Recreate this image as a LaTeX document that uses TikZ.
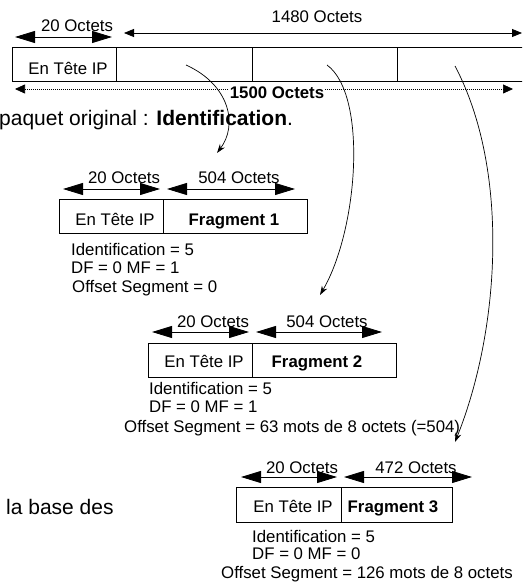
\documentclass[tikz,border=0pt]{standalone}
\usepackage{fontspec}
\setmainfont{Liberation Sans}
\usetikzlibrary{arrows.meta}
\begin{document}
\begin{tikzpicture}[x=1pt,y=-1pt,
  cell/.style={draw,line width=1pt,inner sep=0pt,anchor=north west},
  lbl/.style={font=\fontsize{16.8}{19}\selectfont,inner sep=0pt,anchor=base},
  blbl/.style={font=\fontsize{16.8}{19}\selectfont\bfseries,inner sep=0pt,anchor=base},
  info/.style={font=\fontsize{16.8}{19}\selectfont,inner sep=0pt,anchor=base west},
  body/.style={font=\fontsize{21}{24}\selectfont,inner sep=0pt,anchor=base west},
  bigdim/.style={line width=0.9pt,{Triangle[length=20pt,width=12pt]}-{Triangle[length=20pt,width=12pt]}},
  smalldim/.style={line width=0.8pt,{Triangle[length=10pt,width=8pt]}-{Triangle[length=10pt,width=8pt]}},
  dotdim/.style={line width=0.7pt,dash pattern=on 1pt off 1pt,{Triangle[length=10pt,width=9pt]}-{Triangle[length=10pt,width=9pt]}},
  curve/.style={line width=0.7pt,-{Stealth[length=9pt,width=6pt]}}]
\useasboundingbox (0,0) rectangle (522,583);
\clip (0,0) rectangle (522,583);

% ---------- original packet ----------
\node[cell,minimum width=104pt,minimum height=34pt] (h0) at (12,47) {};
\node[cell,minimum width=136pt,minimum height=34pt] (d1) at (116,47) {};
\node[cell,minimum width=145pt,minimum height=34pt] (d2) at (252,47) {};
\node[cell,minimum width=140pt,minimum height=34pt] (d3) at (397,47) {};
\node[lbl] (th0) at (68,75) {En Tête IP};

\coordinate (a1) at (15,37); \coordinate (a2) at (112,37);
\draw[bigdim] (a1) -- (a2);
\node[lbl] (t20) at (77,32) {20 Octets};
\coordinate (b1) at (124,33); \coordinate (b2) at (522,33);
\draw[smalldim] (b1) -- (b2);
\node[lbl] (t1480) at (317,23) {1480 Octets};
\coordinate (c1) at (15,89); \coordinate (c2) at (513,89);
\draw[dotdim] (c1) -- (c2);
\node[blbl,fill=white,inner sep=0.6pt] (t1500) at (277,99) {1500 Octets};

\node[body] (para1) at (-1,125) {paquet original : \textbf{Identification}.};
\node[body] (para2) at (6,514) {la base des};

% ---------- fragment 1 ----------
\node[cell,minimum width=104pt,minimum height=34pt] (f1h) at (59,199) {};
\node[cell,minimum width=144pt,minimum height=34pt] (f1d) at (163,199) {};
\node[lbl] (f1ht) at (115,225) {En Tête IP};
\node[blbl] (f1dt) at (234,225) {Fragment 1};
\coordinate (f1a1) at (63,189); \coordinate (f1a2) at (160,189);
\coordinate (f1b1) at (167,189); \coordinate (f1b2) at (295,189);
\draw[bigdim] (f1a1) -- (f1a2);
\draw[bigdim] (f1b1) -- (f1b2);
\node[lbl] (f1l1) at (124,183) {20 Octets};
\node[lbl] (f1l2) at (239,183) {504 Octets};
\node[info] (f1i1) at (71,255) {Identification = 5};
\node[info] (f1i2) at (71,273) {DF = 0 MF = 1};
\node[info] (f1i3) at (72,292) {Offset Segment = 0};

% ---------- fragment 2 ----------
\node[cell,minimum width=104pt,minimum height=34pt] (f2h) at (148,343) {};
\node[cell,minimum width=144pt,minimum height=34pt] (f2d) at (252,343) {};
\node[lbl] (f2ht) at (204,367) {En Tête IP};
\node[blbl] (f2dt) at (317,367) {Fragment 2};
\coordinate (f2a1) at (152,332); \coordinate (f2a2) at (249,332);
\coordinate (f2b1) at (256,332); \coordinate (f2b2) at (382,332);
\draw[bigdim] (f2a1) -- (f2a2);
\draw[bigdim] (f2b1) -- (f2b2);
\node[lbl] (f2l1) at (213,327) {20 Octets};
\node[lbl] (f2l2) at (327,327) {504 Octets};
\node[info] (f2i1) at (149,394) {Identification = 5};
\node[info] (f2i2) at (149,412) {DF = 0 MF = 1};
\node[info] (f2i3) at (124,432) {Offset Segment = 63 mots de 8 octets (=504)};

% ---------- fragment 3 ----------
\node[cell,minimum width=105pt,minimum height=35pt] (f3h) at (236,487) {};
\node[cell,minimum width=111pt,minimum height=35pt] (f3d) at (341,487) {};
\node[lbl] (f3ht) at (293,512) {En Tête IP};
\node[blbl] (f3dt) at (393,512) {Fragment 3};
\coordinate (f3a1) at (241,477); \coordinate (f3a2) at (337,477);
\coordinate (f3b1) at (344,477); \coordinate (f3b2) at (472,477);
\draw[bigdim] (f3a1) -- (f3a2);
\draw[bigdim] (f3b1) -- (f3b2);
\node[lbl] (f3l1) at (302,473) {20 Octets};
\node[lbl] (f3l2) at (416,473) {472 Octets};
\node[info] (f3i1) at (252,542) {Identification = 5};
\node[info] (f3i2) at (252,559) {DF = 0 MF = 0};
\node[info] (f3i3) at (221,578) {Offset Segment = 126 mots de 8 octets};

% ---------- curved arrows ----------
\coordinate (s1) at (186,65); \coordinate (e1) at (217,153);
\coordinate (s2) at (327,65); \coordinate (e2) at (320,295);
\coordinate (s3) at (455,66); \coordinate (e3) at (455,442);
\draw[curve] (s1) .. controls (230,85) and (238,125) .. (e1);
\draw[curve] (s2) .. controls (368,95) and (358,230) .. (e2);
\draw[curve] (s3) .. controls (510,170) and (500,330) .. (e3);
\end{tikzpicture}
\end{document}
